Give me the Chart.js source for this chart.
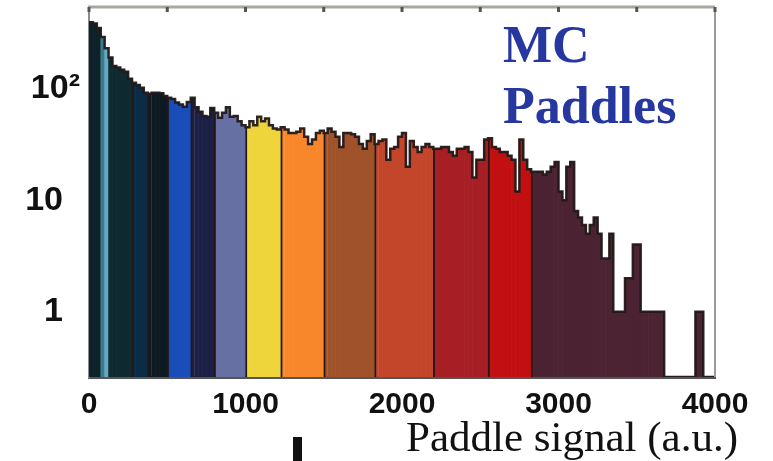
<!DOCTYPE html>
<html>
<head>
<meta charset="utf-8">
<script src="https://cdn.jsdelivr.net/npm/chart.js@4"></script>
<style>
  html, body { margin: 0; padding: 0; background: #fff; }
  #wrap { width: 773px; height: 461px; }
</style>
</head>
<body>
<div id="wrap"><canvas id="paddle-chart" width="773" height="461"></canvas></div>
<script>
// histogram: 160 bins of 25 a.u. from 0 to 4000
const binWidth = 25;
const counts = [
  395, 385, 350, 290, 230, 190, 160, 155, 148, 142,
  123, 113, 108, 102, 92, 90, 92, 92, 91, 86,
  83, 81, 75, 72, 69, 76, 83, 68, 62, 57,
  56, 67, 61, 55, 61, 68, 56, 57, 51, 47,
  45, 51, 47, 56, 51, 54, 47, 44, 43, 45,
  43, 40, 40, 41, 44, 37, 32, 35, 40, 42,
  40, 44, 41, 37, 30, 40, 40, 39, 37, 32,
  29, 34, 39, 32, 34, 35, 23, 29, 30, 37,
  40, 20, 34, 30, 27, 30, 32, 30, 29, 29,
  30, 30, 27, 25, 29, 29, 30, 27, 16, 23,
  23, 35, 36, 30, 29, 27, 27, 25, 23, 12,
  35, 23, 19, 18, 18, 18, 17, 18, 20, 22,
  12, 10, 20, 22, 8, 7, 6, 5, 6, 7,
  5, 3, 3, 5, 1, 1, 1, 2, 2, 4,
  4, 1, 1, 1, 1, 1, 1, 0, 0, 0,
  0, 0, 0, 0, 0, 1, 1, 0, 0, 0
];

// paddle bands (signal ranges) and their colours
const bandEdges = [0, 75, 100, 125, 275, 375, 500, 650, 800, 1000, 1225, 1500, 1825, 2200, 2550, 2825, 4000];
const bandColors = [
  '#0e2227', '#3a7a8c', '#66a8bf', '#0f2a30', '#0a2c46', '#0e1a22', '#1a4db8', '#1c2046',
  '#6670a2', '#eed53c', '#f8862a', '#a0522a', '#c4462a', '#a71f24', '#c20f12', '#4c2332'
];
const softEdges = [75, 100, 125];

const xTicks = [0, 1000, 2000, 3000, 4000];
const yTicks = [1, 10, 100];
const yTickLabels = ['1\u2002', '10\u2002', '10\u00b2'];
const xMin = 0, xMax = 4000, yMin = 0.26, yMax = 540;

function bandOf(x) {
  for (let b = 0; b < bandEdges.length - 1; b++) {
    if (x >= bandEdges[b] && x < bandEdges[b + 1]) return b;
  }
  return bandEdges.length - 2;
}

const barPoints = counts.map((c, i) => ({ x: (i + 0.5) * binWidth, y: c > 0 ? c : null }));
const barColors = counts.map((c, i) => bandColors[bandOf(i * binWidth)]);
const bandStart = counts.map((c, i) => {
  const e = i * binWidth;
  return i > 0 && bandEdges.includes(e) && !softEdges.includes(e);
});

// step outline, points on the left bin edges
const outline = counts.map((c, i) => ({ x: i * binWidth, y: c > 0 ? c : yMin }));
outline.push({ x: xMax, y: yMin });

const frame = {
  id: 'frame',
  afterDraw(chart) {
    const { ctx, chartArea: a, scales: { x } } = chart;
    ctx.save();
    ctx.strokeStyle = '#a8a8a2';
    ctx.lineWidth = 3;
    ctx.beginPath();
    ctx.moveTo(a.left - 1, a.top);
    ctx.lineTo(a.right, a.top);
    ctx.stroke();
    ctx.strokeStyle = '#9a9a96';
    ctx.lineWidth = 2;
    ctx.beginPath();
    ctx.moveTo(a.right, a.top);
    ctx.lineTo(a.right, a.bottom);
    ctx.stroke();
    ctx.strokeStyle = '#555';
    ctx.lineWidth = 3;
    ctx.beginPath();
    for (let v = xMin; v <= xMax; v += 500) {
      const px = x.getPixelForValue(v);
      ctx.moveTo(px, a.top);
      ctx.lineTo(px, a.top + 5);
    }
    ctx.stroke();

    ctx.fillStyle = '#26379f';
    ctx.font = "bold 52px 'Liberation Serif', 'Times New Roman', serif";
    ctx.textAlign = 'left';
    ctx.textBaseline = 'alphabetic';
    ctx.fillText('MC', 503, 62);
    ctx.fillText('Paddles', 503, 123);

    ctx.fillStyle = '#111';
    ctx.font = "43px 'Liberation Serif', 'Times New Roman', serif";
    ctx.textAlign = 'right';
    ctx.fillText('Paddle signal (a.u.)', 738, 451);

    ctx.fillRect(293, 437, 9, 24);
    ctx.restore();
  }
};

new Chart(document.getElementById('paddle-chart'), {
  type: 'bar',
  data: {
    datasets: [
      {
        type: 'line',
        data: outline,
        stepped: true,
        borderColor: 'rgba(35, 25, 25, 0.95)',
        borderWidth: 2.5,
        pointRadius: 0,
        fill: false,
        order: 0
      },
      {
        type: 'bar',
        data: barPoints,
        backgroundColor: barColors,
        borderColor: '#241612',
        borderWidth: ctx => bandStart[ctx.dataIndex] ? { left: 2, top: 0, right: 0, bottom: 0 } : 0,
        barPercentage: 1,
        categoryPercentage: 1,
        order: 1
      }
    ]
  },
  options: {
    responsive: false,
    animation: false,
    layout: { padding: { left: 0, right: 58, top: 7, bottom: 0 } },
    plugins: { legend: { display: false }, tooltip: { enabled: false } },
    scales: {
      x: {
        type: 'linear',
        offset: false,
        min: xMin,
        max: xMax,
        afterBuildTicks: scale => { scale.ticks = xTicks.map(v => ({ value: v })); },
        afterFit: scale => { scale.height = 84; scale.paddingLeft = 0; scale.paddingRight = 0; },
        grid: { display: false, drawTicks: false },
        border: { color: '#555', width: 3 },
        ticks: {
          padding: 10,
          maxRotation: 0,
          color: '#111',
          font: { family: "'Liberation Sans', Arial, sans-serif", size: 30, weight: 'bold' },
          callback: v => String(v)
        }
      },
      y: {
        type: 'logarithmic',
        min: yMin,
        max: yMax,
        afterBuildTicks: scale => { scale.ticks = yTicks.map(v => ({ value: v })); },
        afterFit: scale => { scale.width = 89; scale.paddingTop = 0; scale.paddingBottom = 0; },
        grid: { display: false, drawTicks: false },
        border: { color: '#8c8c8c', width: 2 },
        ticks: {
          padding: 9,
          color: '#111',
          font: { family: "'Liberation Sans', Arial, sans-serif", size: 34, weight: 'bold' },
          callback: v => yTickLabels[yTicks.indexOf(v)]
        }
      }
    }
  },
  plugins: [frame]
});
</script>
</body>
</html>
